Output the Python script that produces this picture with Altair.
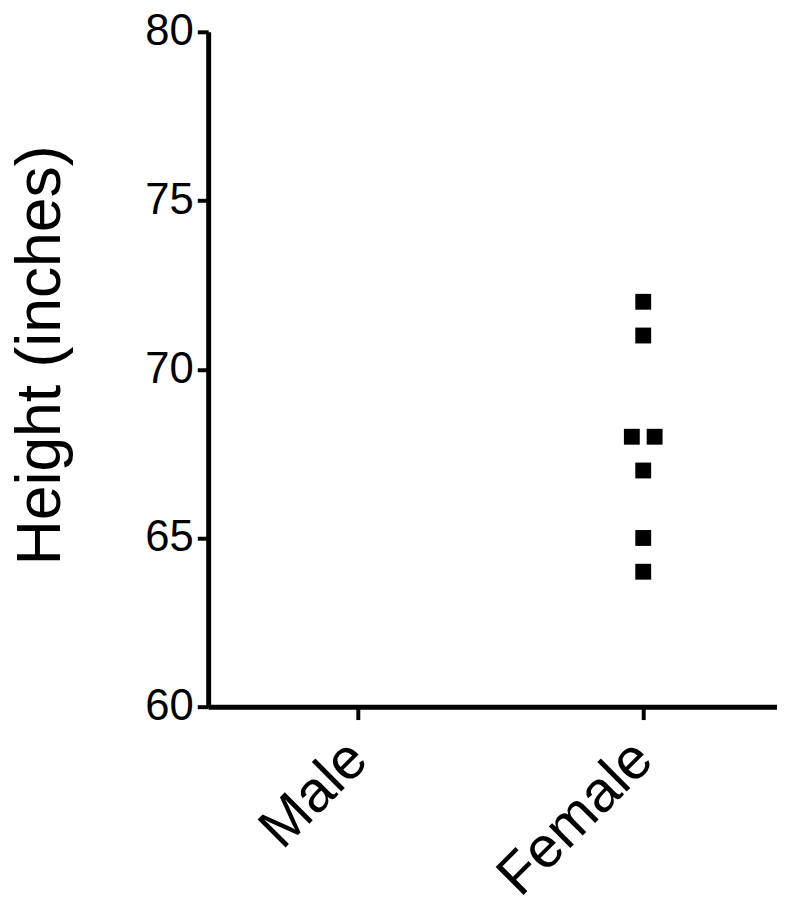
import altair as alt
import pandas as pd

categories = ["Male", "Female"]
female_heights = [72, 71, 68, 68, 67, 65, 64]
female_jitter = [0, 0, -1, 1, 0, 0, 0]

df = pd.DataFrame({
    "Sex": ["Female"] * len(female_heights),
    "Height": female_heights,
    "Jitter": female_jitter,
})

FONT = "Liberation Sans"

chart = alt.Chart(df).mark_square(size=256, color="black", opacity=1, filled=True).encode(
    x=alt.X("Sex:N", scale=alt.Scale(type="point", domain=categories, padding=0.4965, align=0.528),
            axis=alt.Axis(title=None, labelAngle=-45, labelAlign="right", labelBaseline="middle",
                          labelPadding=31, labelFontSize=58, labelFont=FONT, labelColor="black",
                          labelLimit=0, labelOverlap=False,
                          tickSize=13, tickWidth=4, tickColor="black",
                          domainWidth=5, domainColor="black", grid=False)),
    xOffset=alt.XOffset("Jitter:Q", scale=alt.Scale(domain=[-1, 1], range=[-11.5, 11.5])),
    y=alt.Y("Height:Q", scale=alt.Scale(domain=[60, 80], nice=False, zero=False),
            axis=alt.Axis(title="Height (inches)", values=[60, 65, 70, 75, 80],
                          labelFontSize=44, labelFont=FONT, labelColor="black", labelPadding=4,
                          tickSize=11, tickWidth=4, tickColor="black",
                          domainWidth=5, domainColor="black", grid=False,
                          titleFontSize=63, titleFont=FONT, titleFontWeight="normal",
                          titleColor="black", titleAngle=270, titleAlign="center",
                          titleBaseline="alphabetic", titleX=-150, titleY=326, titleLimit=0)),
).properties(
    width=574,
    height=681,
    autosize=alt.AutoSizeParams(type="none"),
    padding={"left": 202, "top": 20, "right": 0, "bottom": 188},
).configure_view(stroke=None)

chart.save("out.html", embed_options={"renderer": "svg", "actions": False})
